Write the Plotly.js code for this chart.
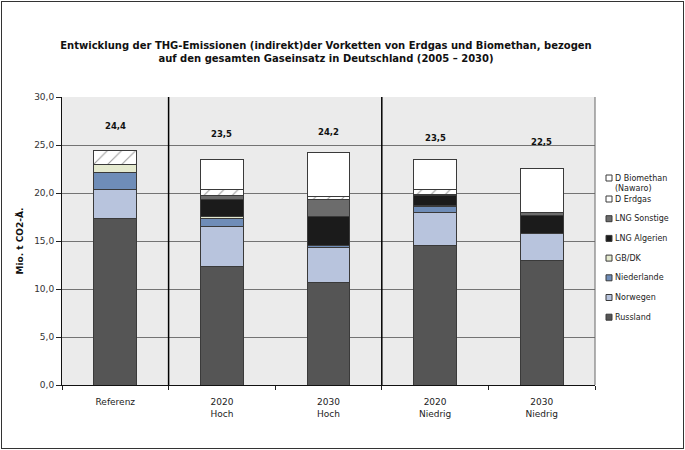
<!DOCTYPE html>
<html>
<head>
<meta charset="utf-8">
<script src="https://cdn.plot.ly/plotly-3.0.1.min.js"></script>
<style>
  html, body { margin: 0; padding: 0; background: #fff; }
  #wrap { position: relative; width: 685px; height: 450px; }
  #wrap::after { content: ""; position: absolute; left: 1px; top: 1px; right: 1px; bottom: 1px;
    border: 1px solid #333; pointer-events: none; z-index: 10; }
  #chart { width: 685px; height: 450px; }
</style>
</head>
<body>
<div id="wrap"><div id="chart"></div></div>
<script>
// ---- data (Mio. t CO2-Äquivalent) ----
const categories = ['Referenz', '2020 Hoch', '2030 Hoch', '2020 Niedrig', '2030 Niedrig'];
const tickLabels = ['Referenz', '2020<br>Hoch', '2030<br>Hoch', '2020<br>Niedrig', '2030<br>Niedrig'];
const russland    = [17.3, 12.3, 10.7, 14.5, 13.0];
const norwegen    = [3.1, 4.2, 3.6, 3.45, 2.8];
const niederlande = [1.7, 0.85, 0.18, 0.65, 0.02];
const gbdk        = [0.9, 0.17, 0.02, 0.08, 0.0];
const lngAlgerien = [0.0, 1.8, 3.05, 1.1, 1.8];
const lngSonstige = [0.0, 0.45, 1.75, 0.02, 0.3];
const dErdgas     = [1.4, 0.6, 0.3, 0.6, 0.05];
const dBiomethan  = [0.0, 3.1, 4.65, 3.1, 4.55];
const totalLabels = ['24,4', '23,5', '24,2', '23,5', '22,5'];
const seriesNames = ['Russland', 'Norwegen', 'Niederlande', 'GB/DK', 'LNG Algerien', 'LNG Sonstige', 'D Erdgas', 'D Biomethan<br>(Nawaro)'];

// ---- styling ----
const seriesValues = [russland, norwegen, niederlande, gbdk, lngAlgerien, lngSonstige, dErdgas, dBiomethan];
const seriesColors = ['#555555', '#b8c4dd', '#6f8db8', '#e5eacf', '#1b1b1b', '#6c6c6c', '#ffffff', '#ffffff'];
const labelY = [27.0, 26.15, 26.35, 25.76, 25.34];
const FONT = 'DejaVu Sans, Verdana, sans-serif';

// plot-area geometry (pixels) used for legend placement
const PL = 62, PR = 595, PT = 97, PB = 385;
const px2x = px => (px - PL) / (PR - PL);
const py2y = py => 1 - (py - PT) / (PB - PT);

const traces = seriesValues.map((vals, i) => {
  const marker = { color: seriesColors[i], line: { color: '#3a3a3a', width: 1 } };
  if (seriesNames[i] === 'D Erdgas') {
    marker.pattern = { shape: '/', fgcolor: '#9a9a9a', bgcolor: '#ffffff', size: 10, solidity: 0.1 };
  }
  return {
    type: 'bar', x: categories, y: vals, name: seriesNames[i],
    marker: marker, showlegend: false, hoverinfo: 'name+y'
  };
});

const annotations = categories.map((c, i) => ({
  x: c, y: labelY[i], xref: 'x', yref: 'y', text: '<b>' + totalLabels[i] + '</b>', showarrow: false,
  font: { family: FONT, size: 8.5, color: '#111' }, xanchor: 'center', yanchor: 'middle'
}));

const shapes = [
  { type: 'line', xref: 'x', yref: 'paper', x0: 0.5, x1: 0.5, y0: 0, y1: 1, line: { color: '#000', width: 1.5 } },
  { type: 'line', xref: 'x', yref: 'paper', x0: 2.5, x1: 2.5, y0: 0, y1: 1, line: { color: '#000', width: 1.5 } },
  { type: 'line', xref: 'paper', yref: 'paper', x0: 1, x1: 1, y0: 0, y1: 1, line: { color: '#666', width: 1 } }
];

// legend (top entry = last series), small square swatches as in the original
const legendOrder = seriesNames.map((n, i) => i).reverse();
legendOrder.forEach((si, k) => {
  const cy = k === 0 ? 178 : 199 + (k - 1) * 19.7;
  const twoLine = seriesNames[si].indexOf('<br>') >= 0;
  annotations.push({
    xref: 'paper', yref: 'paper', x: px2x(613), y: py2y(twoLine ? cy + 5.5 : cy),
    text: seriesNames[si], showarrow: false, xanchor: 'left', yanchor: 'middle', align: 'left',
    font: { family: FONT, size: 8, color: '#222' }
  });
  shapes.push({
    type: 'rect', xref: 'paper', yref: 'paper',
    x0: px2x(606), x1: px2x(612), y0: py2y(cy + 3), y1: py2y(cy - 3),
    fillcolor: seriesColors[si], line: { color: '#3a3a3a', width: 1 }
  });
});

const layout = {
  width: 685, height: 450,
  paper_bgcolor: 'rgba(0,0,0,0)', plot_bgcolor: '#ebebeb',
  margin: { l: PL, r: 685 - PR, t: PT, b: 450 - PB },
  barmode: 'stack', bargap: 0.6,
  separators: ',.',
  font: { family: FONT, size: 9, color: '#222' },
  showlegend: false,
  title: {
    text: '<b>Entwicklung der THG-Emissionen (indirekt)der Vorketten von Erdgas und Biomethan, bezogen<br>auf den gesamten Gaseinsatz in Deutschland (2005 – 2030)</b>',
    font: { family: FONT, size: 10, color: '#111' },
    x: 326 / 685, xref: 'container', xanchor: 'center',
    y: 1 - 49 / 450, yref: 'container', yanchor: 'middle'
  },
  xaxis: {
    type: 'category', tickmode: 'array', tickvals: categories, ticktext: tickLabels,
    tickson: 'boundaries', ticks: 'outside', ticklen: 4, tickcolor: '#222',
    showline: true, linecolor: '#111', linewidth: 1,
    showgrid: false, tickfont: { family: FONT, size: 9, color: '#222' },
    ticklabelstandoff: 8
  },
  yaxis: {
    range: [0, 30], dtick: 5, tickformat: '.1f',
    ticks: 'outside', ticklen: 5, tickcolor: '#222',
    showline: true, linecolor: '#111', linewidth: 1,
    showgrid: true, gridcolor: '#737373', gridwidth: 1, zeroline: false,
    tickfont: { family: FONT, size: 9, color: '#333' },
    title: { text: '<b>Mio. t CO2-Ä.</b>', font: { family: FONT, size: 9, color: '#111' }, standoff: 9 }
  },
  shapes: shapes,
  annotations: annotations
};

Plotly.newPlot('chart', traces, layout, { displayModeBar: false, staticPlot: true });
</script>
</body>
</html>
